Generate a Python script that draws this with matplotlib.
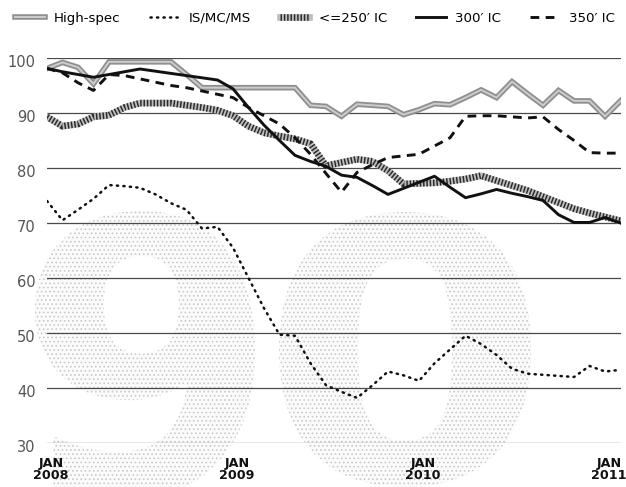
"""
Rig utilisation chart, Jan 2008 - Feb 2011, monthly, by rig class.
Black and grey house style with the stippled "90" watermark behind.
"""

import matplotlib
matplotlib.use("Agg")
import matplotlib.pyplot as plt
from matplotlib import patheffects as pe
from matplotlib.font_manager import FontProperties
from matplotlib.patches import PathPatch
from matplotlib.textpath import TextPath
from matplotlib.transforms import Affine2D, ScaledTranslation

# monthly points, Jan 2008 = month 0
months = list(range(38))

high_spec = [98.1, 99.2, 98.3, 95.3, 99.3, 99.3, 99.3, 99.3, 99.3, 97.0,
             94.6, 94.6, 94.6, 94.6, 94.6, 94.6, 94.6, 91.4, 91.2, 89.4,
             91.6, 91.4, 91.2, 89.7, 90.6, 91.7, 91.5, 92.8, 94.2, 92.8,
             95.7, 93.5, 91.4, 94.1, 92.2, 92.2, 89.4, 92.2]
is_mc_ms = [74.0, 70.5, 72.4, 74.4, 76.9, 76.7, 76.4, 75.2, 73.6, 72.4,
            69.0, 69.3, 65.5, 60.0, 54.5, 49.7, 49.5, 44.5, 40.5, 39.3,
            38.2, 40.5, 43.0, 42.3, 41.3, 44.5, 47.0, 49.5, 48.0, 46.0,
            43.5, 42.6, 42.4, 42.2, 42.0, 44.0, 43.0, 43.3]
ic_250 = [89.3, 87.6, 88.0, 89.3, 89.6, 91.0, 91.8, 91.8, 91.8, 91.4,
          91.0, 90.5, 89.5, 87.6, 86.4, 85.8, 85.3, 84.4, 80.4, 81.0,
          81.6, 81.2, 79.5, 77.1, 77.2, 77.3, 77.6, 78.0, 78.6, 77.7,
          76.8, 75.9, 74.8, 73.7, 72.6, 71.8, 71.1, 70.4]
ic_300 = [98.1, 97.5, 97.0, 96.5, 97.0, 97.5, 98.0, 97.6, 97.2, 96.8,
          96.4, 96.0, 94.4, 91.0, 87.8, 85.0, 82.3, 81.2, 80.3, 78.7,
          78.3, 76.8, 75.2, 76.3, 77.4, 78.5, 76.5, 74.6, 75.3, 76.1,
          75.4, 74.8, 74.1, 71.5, 70.1, 70.1, 71.0, 70.0]
ic_350 = [98.1, 97.3, 95.5, 94.1, 97.0, 96.8, 96.2, 95.6, 95.0, 94.6,
          94.0, 93.4, 92.8, 91.0, 89.5, 88.0, 85.5, 82.5, 79.0, 75.6,
          79.2, 80.6, 81.9, 82.2, 82.5, 84.0, 85.5, 89.4, 89.5, 89.5,
          89.3, 89.1, 89.3, 87.0, 85.0, 82.8, 82.7, 82.7]

y_ticks = [30, 40, 50, 60, 70, 80, 90, 100]
x_ticks = [0.25, 12.25, 24.25, 36.25]
x_labels = ["JAN\n2008", "JAN\n2009", "JAN\n2010", "JAN\n2011"]

plt.rcParams["font.family"] = ["DejaVu Sans"]
plt.rcParams["hatch.linewidth"] = 0.7

fig = plt.figure(figsize=(6.26, 4.87), dpi=100)
ax = fig.add_axes([47 / 626, 44 / 487, 574 / 626, 385 / 487])
ax.patch.set_visible(False)


def watermark(ch, x0, y0, x1, y1, weight):
    """Stippled glyph fitted into a figure-fraction box."""
    tp = TextPath((0, 0), ch, size=100,
                  prop=FontProperties(family="DejaVu Sans", weight=weight))
    bb = tp.get_extents()
    tr = (Affine2D().translate(-bb.x0, -bb.y0)
          .scale((x1 - x0) / bb.width, (y1 - y0) / bb.height)
          .translate(x0, y0))
    patch = PathPatch(tr.transform_path(tp), transform=fig.transFigure,
                      facecolor="#fbfbfb", edgecolor="#c9c9c9",
                      hatch="....", lw=0, zorder=0.1, clip_on=False)
    ax.add_artist(patch)


watermark("9", 35 / 626, -12 / 487, 255 / 626, 276 / 487, "bold")
watermark("0", 279 / 626, 0 / 487, 531 / 626, 275 / 487, "bold")

hs, = ax.plot(months, high_spec, color="#cdcdcd", lw=1.4, zorder=3,
              solid_joinstyle="miter",
              path_effects=[pe.Stroke(linewidth=4.0, foreground="#8f8f8f"),
                            pe.Normal()])
dot, = ax.plot(months, is_mc_ms, color="#111111", lw=1.8,
               linestyle=(0, (0.5, 2.1)), dash_capstyle="round", zorder=4)
bg250, = ax.plot(months, ic_250, color="#bdbdbd", lw=4.8, zorder=3)
st250, = ax.plot(months, ic_250, color="#2a2a2a", lw=4.8,
                 linestyle=(0, (0.22, 0.28)), zorder=3.1)
s300, = ax.plot(months, ic_300, color="#111111", lw=2.1, zorder=5)
d350, = ax.plot(months, ic_350, color="#111111", lw=2.1,
                linestyle=(0, (3.0, 2.2)), zorder=5)

ax.set_xlim(0, 37.03)
ax.set_ylim(30, 100)
ax.set_yticks(y_ticks)
ax.set_xticks(x_ticks)
ax.set_xticklabels(x_labels, fontsize=9.2, fontweight="bold",
                   color="#111111", linespacing=0.95)
ax.tick_params(axis="both", length=0)
ax.tick_params(axis="x", pad=10)
ax.tick_params(axis="y", pad=8, labelsize=10.5, labelcolor="#555555")
shift = ScaledTranslation(0, -3 / 100, fig.dpi_scale_trans)
for lab in ax.get_yticklabels():
    lab.set_transform(lab.get_transform() + shift)
for side in ("top", "right", "left", "bottom"):
    ax.spines[side].set_visible(False)
ax.grid(axis="y", color="#4a4a4a", linewidth=0.9)
ax.set_axisbelow(True)

fig.legend([hs, dot, (bg250, st250), s300, d350],
           ["High-spec", "IS/MC/MS", "<=250\u2032 IC", "300\u2032 IC",
            "350\u2032 IC"],
           loc="upper left", bbox_to_anchor=(6 / 626, 0.995), ncol=5,
           frameon=False, fontsize=9.6, handlelength=2.2, handletextpad=0.7,
           columnspacing=2.2, borderaxespad=0.3)

fig.savefig("out.png", dpi=100)
